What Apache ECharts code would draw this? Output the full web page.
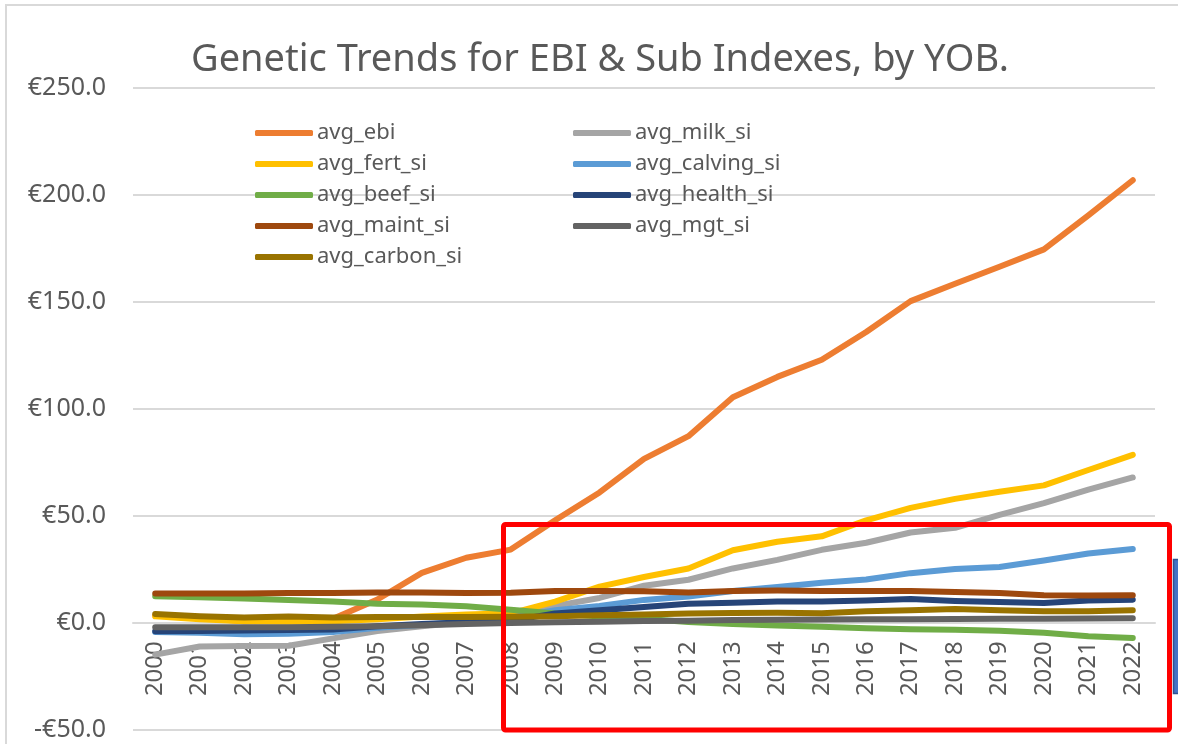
<!DOCTYPE html>
<html>
<head>
<meta charset="utf-8">
<script src="https://cdn.jsdelivr.net/npm/echarts@6/dist/echarts.min.js"></script>
<style>
  html, body { margin: 0; padding: 0; background: #fff; }
  #chart { width: 1178px; height: 744px; }
</style>
</head>
<body>
<div id="chart"></div>
<script>
// years of birth
const years = ['2000', '2001', '2002', '2003', '2004', '2005', '2006', '2007', '2008', '2009', '2010', '2011',
  '2012', '2013', '2014', '2015', '2016', '2017', '2018', '2019', '2020', '2021', '2022'];

// values (EUR)
const avgEbi = [3.5, 2.5, 0.8, 1, 2, 11, 23.4, 30.5, 34.3, 48, 61, 76.7, 87.3, 105.5, 115, 123, 136, 150.4, 158.5, 166.5, 174.6, 190.5, 206.9];
const avgMilk = [-14.8, -11, -10.8, -10.6, -7.2, -3.8, -1.5, 0.5, 2.5, 8, 11.7, 17.4, 20.2, 25.5, 29.5, 34.2, 37.5, 42.3, 44.5, 50.5, 56, 62.3, 68];
const avgFert = [3.1, 1.8, 0.8, 0.6, 0.8, 1.8, 3, 4, 4.5, 10, 17, 21.5, 25.5, 34, 38, 40.5, 48, 53.8, 58, 61.3, 64.3, 71.5, 78.6];
const avgCalving = [-4.2, -4.6, -5.2, -5, -4.2, -2.2, -0.8, 0.5, 2.5, 6, 8, 10.8, 12.4, 15, 16.8, 18.8, 20.3, 23.3, 25.2, 26.2, 29.2, 32.5, 34.6];
const avgBeef = [12.5, 12, 11.5, 10.8, 10, 9, 8.7, 7.8, 6.2, 4.5, 3, 2, 0.5, -0.5, -1.2, -1.8, -2.4, -2.9, -3.2, -3.6, -4.6, -6.2, -7];
const avgHealth = [-3.9, -3.7, -3.5, -3.3, -3, -1.5, -0.5, 0.3, 1, 4.5, 6, 7.5, 9, 9.5, 10, 10, 10.5, 11.2, 10.3, 9.8, 9.3, 10.5, 10.9];
const avgMaint = [13.8, 13.8, 13.8, 14, 14, 14.3, 14.2, 14, 14.1, 15, 15, 14.8, 14.3, 15, 15.2, 15, 15, 15, 14.5, 14, 13, 12.8, 13];
const avgMgt = [-2, -2, -2, -2, -1.8, -1.5, -1, -0.5, 0, 0.3, 0.6, 0.9, 1.1, 1.4, 1.5, 1.6, 1.7, 1.8, 1.9, 2, 2, 2.1, 2.2];
const avgCarbon = [4.2, 3.2, 2.6, 3, 2.6, 2.8, 2.8, 2.8, 2.9, 3.2, 3.6, 4, 4.4, 4.7, 4.8, 4.5, 5.5, 6, 6.5, 6, 5.5, 5.5, 5.9];

const seriesNames = ['avg_ebi', 'avg_milk_si', 'avg_fert_si', 'avg_calving_si', 'avg_beef_si',
  'avg_health_si', 'avg_maint_si', 'avg_mgt_si', 'avg_carbon_si'];
const seriesData = [avgEbi, avgMilk, avgFert, avgCalving, avgBeef, avgHealth, avgMaint, avgMgt, avgCarbon];
const colors = ['#ED7D31', '#A5A5A5', '#FFC000', '#5B9BD5', '#70AD47', '#264478', '#9E480E', '#636363', '#997300'];

const textColor = '#595959';
const font = 'Noto Sans';

const legendBase = {
  orient: 'vertical',
  top: 121,
  padding: 0,
  itemGap: 7,
  itemWidth: 58,
  itemHeight: 6,
  icon: 'roundRect',
  selectedMode: false,
  textStyle: { color: textColor, fontFamily: font, fontSize: 22, lineHeight: 24, padding: [0, 0, 0, -1] }
};

const myChart = echarts.init(document.getElementById('chart'));
myChart.setOption({
  animation: false,
  color: colors,
  title: {
    text: 'Genetic Trends for EBI & Sub Indexes, by YOB.',
    left: 595,
    top: 36,
    textAlign: 'center',
    textStyle: { color: textColor, fontFamily: font, fontSize: 38, fontWeight: 'normal' }
  },
  legend: [
    Object.assign({ left: 255, data: ['avg_ebi', 'avg_fert_si', 'avg_beef_si', 'avg_maint_si', 'avg_carbon_si'] }, legendBase),
    Object.assign({ left: 573, data: ['avg_milk_si', 'avg_calving_si', 'avg_health_si', 'avg_mgt_si'] }, legendBase)
  ],
  grid: {
    left: 133,
    right: 23,
    top: 88,
    bottom: 14,
    containLabel: false,
    outerBoundsMode: 'none'
  },
  xAxis: {
    type: 'category',
    data: years,
    boundaryGap: true,
    // category axis sits on the zero line (one band of 50 above the bottom)
    offset: -106.8,
    axisLine: { onZero: false, lineStyle: { color: '#D9D9D9', width: 2 } },
    axisTick: { show: false },
    axisLabel: {
      rotate: 90,
      interval: 0,
      margin: 18,
      color: textColor,
      fontFamily: font,
      fontSize: 24
    }
  },
  yAxis: {
    type: 'value',
    min: -50,
    max: 250,
    interval: 50,
    axisLine: { show: false },
    axisTick: { show: false },
    splitLine: { lineStyle: { color: '#D9D9D9', width: 2 } },
    axisLabel: {
      margin: 27,
      color: textColor,
      fontFamily: font,
      fontSize: 25,
      formatter: (v) => (v < 0 ? '-€' : '€') + Math.abs(v).toFixed(1)
    }
  },
  series: seriesNames.map((name, i) => ({
    name: name,
    type: 'line',
    data: seriesData[i],
    symbol: 'none',
    lineStyle: { width: 6, cap: 'round', join: 'round' }
  })),
  graphic: [
    {
      type: 'rect',
      z: 0,
      silent: true,
      shape: { x: 6, y: 5, width: 1400, height: 900 },
      style: { fill: 'none', stroke: '#D9D9D9', lineWidth: 2 }
    },
    {
      type: 'rect',
      z: 100,
      silent: true,
      shape: { x: 503.5, y: 524.5, width: 666, height: 205.5, r: 2 },
      style: { fill: 'none', stroke: '#FF0000', lineWidth: 5 }
    },
    {
      type: 'rect',
      z: 100,
      silent: true,
      shape: { x: 1173.5, y: 559.5, width: 10, height: 134 },
      style: { fill: '#4472C4', stroke: '#2F528F', lineWidth: 1.5 }
    }
  ]
});
window.addEventListener('resize', myChart.resize);
</script>
</body>
</html>
